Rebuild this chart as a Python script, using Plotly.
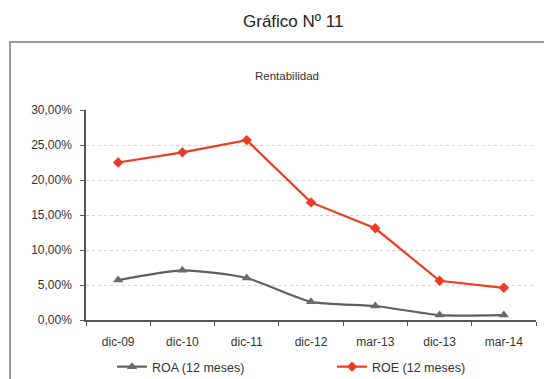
import plotly.graph_objects as go

periodos = ["dic-09", "dic-10", "dic-11", "dic-12", "mar-13", "dic-13", "mar-14"]
roa = [0.057, 0.071, 0.060, 0.026, 0.020, 0.007, 0.007]
roe = [0.225, 0.2395, 0.257, 0.168, 0.131, 0.056, 0.046]

W, H = 544, 379
ML, MR, MT, MB = 86, 8, 110, 59
pw, ph = W - ML - MR, H - MT - MB


def px_x(x):
    return (x - ML) / pw


def px_y(y):
    return (H - MB - y) / ph


fig = go.Figure()
fig.add_trace(go.Scatter(
    x=periodos, y=roa, name="ROA (12 meses)", mode="lines+markers",
    line=dict(color="#5f5f5f", width=2.2, shape="spline", smoothing=0.6),
    marker=dict(symbol="triangle-up", size=9, color="#6a6a6a"),
))
fig.add_trace(go.Scatter(
    x=periodos, y=roe, name="ROE (12 meses)", mode="lines+markers",
    line=dict(color="#ef3b24", width=2.2),
    marker=dict(symbol="diamond", size=8, color="#ef3b24"),
))

fig.update_layout(
    width=W, height=H,
    margin=dict(l=ML, r=MR, t=MT, b=MB, autoexpand=False),
    paper_bgcolor="white", plot_bgcolor="white",
    separators=",.",
    font=dict(family="Liberation Sans, Arial, sans-serif", size=12, color="#333333"),
    showlegend=True,
    legend=dict(orientation="h", xref="container", yref="container",
                x=112 / W, xanchor="left", y=(H - 367) / H, yanchor="middle",
                entrywidth=175, entrywidthmode="pixels", itemwidth=30,
                font=dict(size=12.5, color="#333333"), bgcolor="rgba(0,0,0,0)",
                tracegroupgap=0),
    xaxis=dict(
        type="category", showline=True, linecolor="#555555", linewidth=1.5,
        ticks="outside", ticklen=4, tickcolor="#555555", tickson="boundaries",
        showgrid=False, tickfont=dict(size=12, color="#333333"),
        ticklabelstandoff=10, range=[-0.5, 6.5],
    ),
    yaxis=dict(
        range=[0, 0.30], dtick=0.05, tickformat=".2%",
        showline=True, linecolor="#555555", linewidth=1.5,
        ticks="outside", ticklen=4, tickcolor="#555555",
        showgrid=True, gridcolor="#d4d4d4", griddash="dot", gridwidth=1,
        zeroline=False, tickfont=dict(size=12, color="#333333"),
        ticklabelstandoff=6,
    ),
    shapes=[dict(
        type="rect", xref="paper", yref="paper",
        x0=px_x(10), x1=px_x(546), y0=px_y(385), y1=px_y(42),
        line=dict(color="#9a9a9a", width=2), fillcolor="rgba(0,0,0,0)", layer="below",
    )],
    annotations=[
        dict(text="Gráfico Nº 11", xref="paper", yref="paper",
             x=px_x(293), y=px_y(22), xanchor="center", yanchor="middle",
             showarrow=False, font=dict(size=17, color="#222222")),
        dict(text="Rentabilidad", xref="paper", yref="paper",
             x=px_x(287), y=px_y(76), xanchor="center", yanchor="middle",
             showarrow=False, font=dict(size=11.5, color="#333333")),
    ],
)

fig.write_html("out.html")
